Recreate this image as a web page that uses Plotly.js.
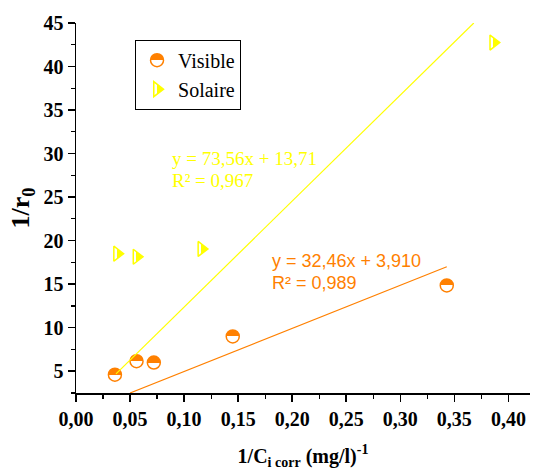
<!DOCTYPE html>
<html>
<head>
<meta charset="utf-8">
<script src="https://cdn.plot.ly/plotly-3.0.1.min.js"></script>
<style>
  html, body { margin: 0; padding: 0; background: #ffffff; }
  #chart { width: 533px; height: 470px; }
</style>
</head>
<body>
<div id="chart"></div>
<script>
// Visible-light series: 1/C (mg/l)^-1 against 1/r0
const visibleX = [0.036, 0.056, 0.072, 0.145, 0.343];
const visibleY = [4.6, 6.15, 6.0, 9.0, 14.85];

// Solar series
const solaireX = [0.038, 0.056, 0.116, 0.386];
const solaireY = [18.5, 18.15, 19.05, 42.75];

// Trend lines (end points as plotted)
const fitVisibleX = [0.05, 0.343];
const fitVisibleY = [2.5, 17.0];
const fitSolaireX = [0.037, 0.368];
const fitSolaireY = [4.7, 45.0];

// Regression labels
const eqVisible = ['y = 32,46x + 3,910', 'R² = 0,989'];
const eqSolaire = ['y = 73,56x + 13,71', 'R² = 0,967'];

// Axis ticks
const xTicks = [0, 0.05, 0.10, 0.15, 0.20, 0.25, 0.30, 0.35, 0.40];
const xTickText = ['0,00', '0,05', '0,10', '0,15', '0,20', '0,25', '0,30', '0,35', '0,40'];
const yTicks = [5, 10, 15, 20, 25, 30, 35, 40, 45];
const yTickText = ['5', '10', '15', '20', '25', '30', '35', '40', '45'];

const ORANGE = '#ff8000';
const YELLOW = '#ffff00';
const SERIF = 'Liberation Serif, Times New Roman, serif';
const SANS = 'Liberation Sans, Arial, sans-serif';

const traces = [
  {
    x: visibleX, y: visibleY, type: 'scatter', mode: 'markers', name: 'Visible', uid: 'vis',
    marker: {
      symbol: 'circle', size: 13, color: ORANGE,
      gradient: { type: 'vertical', color: '#ffffff' },
      line: { color: ORANGE, width: 1.5 }
    }
  },
  {
    x: solaireX, y: solaireY, type: 'scatter', mode: 'markers', name: 'Solaire', uid: 'sol',
    marker: {
      symbol: 'triangle-right', size: 13, color: YELLOW,
      gradient: { type: 'horizontal', color: '#ffffff' },
      line: { color: YELLOW, width: 1.5 }
    }
  },
  {
    x: fitVisibleX, y: fitVisibleY, type: 'scatter', mode: 'lines', showlegend: false,
    line: { color: ORANGE, width: 1.2 }, hoverinfo: 'skip'
  },
  {
    x: fitSolaireX, y: fitSolaireY, type: 'scatter', mode: 'lines', showlegend: false,
    line: { color: YELLOW, width: 1.2 }, hoverinfo: 'skip'
  }
];

function eqLabel(text, x, y, color, family, size) {
  return {
    text: text, x: x, y: y, xref: 'x', yref: 'y',
    xanchor: 'left', yanchor: 'middle', showarrow: false,
    font: { family: family, size: size, color: color }
  };
}

const tickFont = { family: SERIF, size: 20, color: '#000000', weight: 700 };

const layout = {
  width: 533, height: 470,
  margin: { l: 76, r: 3, t: 23, b: 77 },
  paper_bgcolor: '#ffffff', plot_bgcolor: '#ffffff',
  showlegend: true,
  legend: {
    x: 0.13, y: 0.955, xanchor: 'left', yanchor: 'top',
    itemwidth: 32,
    bgcolor: '#ffffff', bordercolor: '#000000', borderwidth: 1,
    font: { family: SERIF, size: 20, color: '#000000' }
  },
  xaxis: {
    range: [0, 0.42], tickvals: xTicks, ticktext: xTickText,
    showgrid: false, zeroline: false,
    showline: true, linecolor: '#000000', linewidth: 1.5,
    ticks: 'outside', ticklen: 7, tickwidth: 1.5, tickcolor: '#000000',
    minor: { dtick: 0.025, ticks: 'outside', ticklen: 4, tickwidth: 1.2, tickcolor: '#000000', showgrid: false },
    tickfont: tickFont,
    title: {
      text: '<b>1/C<sub>i corr</sub> (mg/l)<sup>-1</sup></b>',
      font: { family: SERIF, size: 20, color: '#000000' },
      standoff: 25
    }
  },
  yaxis: {
    range: [2.5, 45], tickvals: yTicks, ticktext: yTickText,
    showgrid: false, zeroline: false,
    showline: true, linecolor: '#000000', linewidth: 1.5,
    ticks: 'outside', ticklen: 7, tickwidth: 1.5, tickcolor: '#000000',
    minor: { dtick: 2.5, ticks: 'outside', ticklen: 4, tickwidth: 1.2, tickcolor: '#000000', showgrid: false },
    tickfont: tickFont,
    title: {
      text: '<b>1/r<sub>0</sub></b>',
      font: { family: SERIF, size: 26, color: '#000000' },
      standoff: 6
    }
  },
  annotations: [
    eqLabel(eqSolaire[0], 0.087, 29.4, YELLOW, SERIF, 19),
    eqLabel(eqSolaire[1], 0.087, 26.86, YELLOW, SERIF, 19),
    eqLabel(eqVisible[0], 0.1796, 17.7, ORANGE, SANS, 18),
    eqLabel(eqVisible[1], 0.1796, 15.16, ORANGE, SANS, 18)
  ]
};

// Turn the smooth marker gradients into a hard split: half-filled symbols.
function sharpenGradients(gd) {
  gd.querySelectorAll('linearGradient').forEach(function (g) {
    const cols = Array.from(g.querySelectorAll('stop')).map(s => (s.getAttribute('stop-color') || '').replace(/\s/g, ''));
    const isYellow = cols.some(c => c === 'rgb(255,255,0)' || c === '#ffff00');
    const isOrange = cols.some(c => c === 'rgb(255,128,0)' || c === '#ff8000');
    let stops;
    if (isYellow) {
      g.setAttribute('x1', '0'); g.setAttribute('y1', '0');
      g.setAttribute('x2', '1'); g.setAttribute('y2', '0');
      stops = [[0, '#ffffff'], [0.3, '#ffffff'], [0.3, YELLOW], [1, YELLOW]];
    } else if (isOrange) {
      g.setAttribute('x1', '0'); g.setAttribute('y1', '0');
      g.setAttribute('x2', '0'); g.setAttribute('y2', '1');
      stops = [[0, ORANGE], [0.5, ORANGE], [0.5, '#ffffff'], [1, '#ffffff']];
    } else {
      return;
    }
    while (g.firstChild) g.removeChild(g.firstChild);
    stops.forEach(function (st) {
      const s = document.createElementNS('http://www.w3.org/2000/svg', 'stop');
      s.setAttribute('offset', (st[0] * 100) + '%');
      s.setAttribute('stop-color', st[1]);
      s.setAttribute('stop-opacity', '1');
      g.appendChild(s);
    });
  });
}

const gd = document.getElementById('chart');
Plotly.newPlot(gd, traces, layout, { displayModeBar: false, staticPlot: true })
  .then(function () { sharpenGradients(gd); });
</script>
</body>
</html>
